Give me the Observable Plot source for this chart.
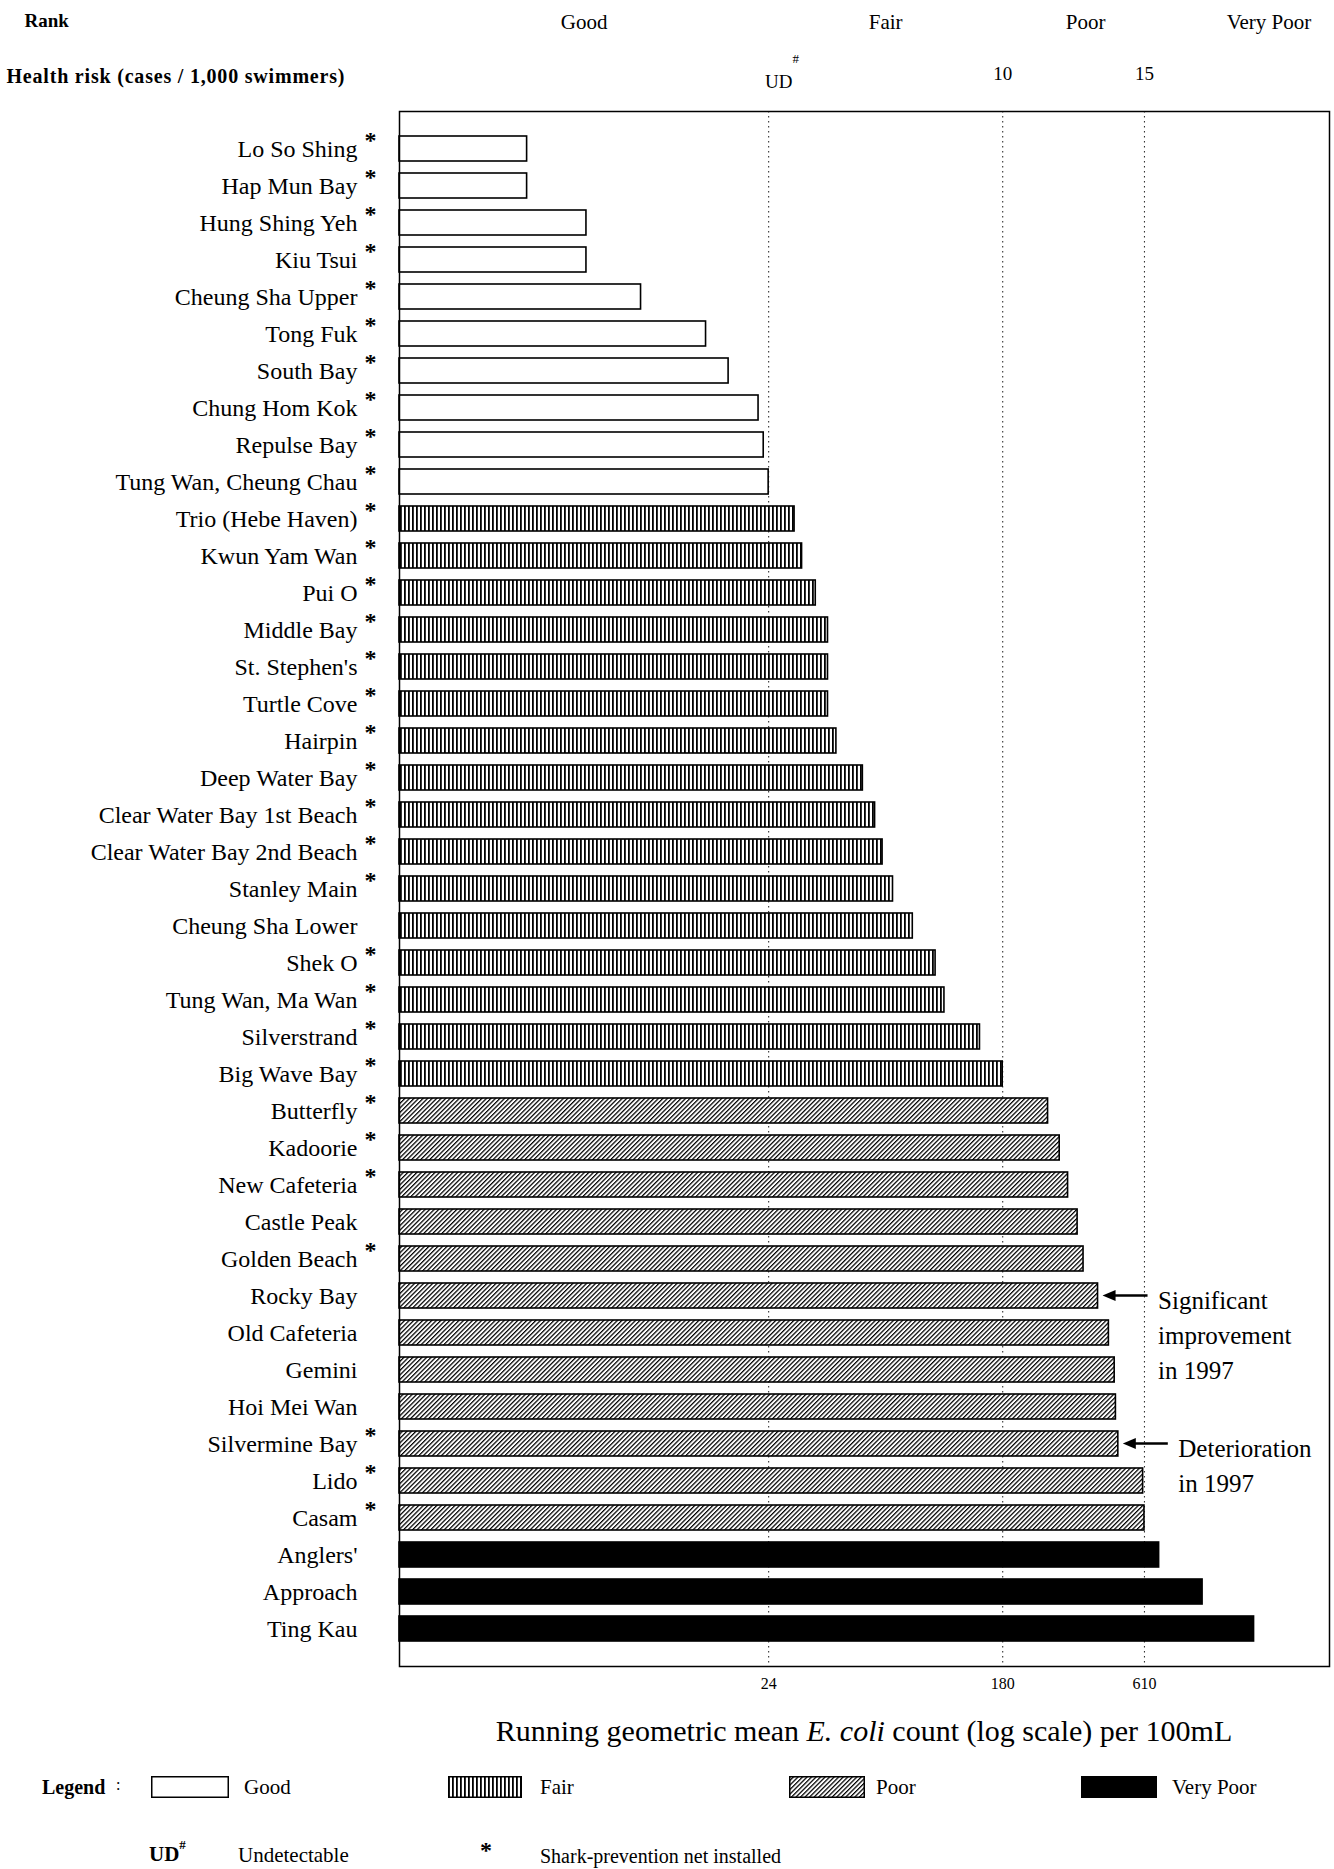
<!DOCTYPE html>
<html>
<head>
<meta charset="utf-8">
<script src="https://cdn.jsdelivr.net/npm/d3@7"></script>
<script src="https://cdn.jsdelivr.net/npm/@observablehq/plot@0.6"></script>
<style>
html, body { margin: 0; padding: 0; background: #fff; }
#page { position: relative; width: 1334px; height: 1869px; overflow: hidden; color: #000;
  font-family: "Liberation Serif", "Times New Roman", serif; }
.abs { position: absolute; white-space: nowrap; line-height: 1; }
.sw { position: absolute; display: block; }
</style>
</head>
<body>
<svg width="0" height="0" style="position:absolute">
  <defs>
    <pattern id="fair" patternUnits="userSpaceOnUse" width="4" height="4">
      <rect width="4" height="4" fill="white"/>
      <rect x="0" y="0" width="1.8" height="4" fill="black"/>
    </pattern>
    <pattern id="poor" patternUnits="userSpaceOnUse" width="3.2" height="3.2" patternTransform="rotate(45)">
      <rect width="3.2" height="3.2" fill="white"/>
      <rect x="0" y="0" width="1.25" height="3.2" fill="black"/>
    </pattern>
  </defs>
</svg>
<div id="page"></div>
<script>
// ---- data ----
const beaches = ["Lo So Shing","Hap Mun Bay","Hung Shing Yeh","Kiu Tsui","Cheung Sha Upper","Tong Fuk","South Bay","Chung Hom Kok","Repulse Bay","Tung Wan, Cheung Chau","Trio (Hebe Haven)","Kwun Yam Wan","Pui O","Middle Bay","St. Stephen's","Turtle Cove","Hairpin","Deep Water Bay","Clear Water Bay 1st Beach","Clear Water Bay 2nd Beach","Stanley Main","Cheung Sha Lower","Shek O","Tung Wan, Ma Wan","Silverstrand","Big Wave Bay","Butterfly","Kadoorie","New Cafeteria","Castle Peak","Golden Beach","Rocky Bay","Old Cafeteria","Gemini","Hoi Mei Wan","Silvermine Bay","Lido","Casam","Anglers'","Approach","Ting Kau"];
const ecoli = [3,3,5,5,8,14,17,22,23,24,30,32,36,40,40,40,43,54,60,64,70,83,101,109,148,180,266,294,316,343,361,409,449,472,477,487,603,610,692,1006,1567];
const ranks = ["Good","Good","Good","Good","Good","Good","Good","Good","Good","Good",
  "Fair","Fair","Fair","Fair","Fair","Fair","Fair","Fair","Fair","Fair","Fair","Fair","Fair","Fair","Fair","Fair",
  "Poor","Poor","Poor","Poor","Poor","Poor","Poor","Poor","Poor","Poor","Poor","Poor",
  "Very Poor","Very Poor","Very Poor"];
const sharkNet = [1,1,1,1,1,1,1,1,1,1,1,1,1,1,1,1,1,1,1,1,1,0,1,1,1,1,1,1,1,0,1,0,0,0,0,1,1,1,0,0,0];
const rankNames = ["Good","Fair","Poor","Very Poor"];
const rankFills = ["white","url(#fair)","url(#poor)","black"];
const thresholds = [24, 180, 610];
const healthRisk = ["UD", "10", "15"];
const xDomain = [1, 3000];
const notes = [
  {beach: "Rocky Bay", text: "Significant\nimprovement\nin 1997"},
  {beach: "Silvermine Bay", text: "Deterioration\nin 1997"}
];

// ---- derived tables ----
const data = beaches.map((b, i) => ({beach: b, ecoli: ecoli[i], rank: ranks[i], net: !!sharkNet[i]}));
const valueOf = new Map(data.map(d => [d.beach, d.ecoli]));
const edges = [xDomain[0], ...thresholds, xDomain[1]];
const rankHeader = rankNames.map((r, i) => ({rank: r, x: Math.sqrt(edges[i] * edges[i + 1])}));
const riskHeader = thresholds.map((t, i) => ({x: t, label: healthRisk[i]}));
const headerNudge = [0, 0, 12, 32]; // label placement nudges (px)
const riskTitle = "Health risk (cases / 1,000 swimmers)";

const plot = Plot.plot({
  width: 1334,
  height: 1705,
  marginTop: 111,
  marginLeft: 399,
  marginRight: 5,
  marginBottom: 39,
  style: {fontFamily: "'Liberation Serif', 'Times New Roman', serif", fontSize: "24px", color: "black", background: "white"},
  x: {type: "log", domain: xDomain, axis: null},
  y: {domain: beaches, paddingInner: 0.32, paddingOuter: 0.65},
  color: {type: "ordinal", domain: rankNames, range: rankFills},
  marks: [
    Plot.ruleX(thresholds, {x: d => d, stroke: "#333", strokeWidth: 1.1, strokeDasharray: "1.5,3.5"}),
    Plot.barX(data, {x1: () => xDomain[0], x2: "ecoli", y: "beach", fill: "rank", stroke: "black", strokeWidth: 1.6}),
    Plot.axisY({tickSize: 0, tickPadding: 42, fontSize: 24, label: null}),
    // bottom tick labels
    Plot.text(thresholds, {x: d => d, text: d => String(d), frameAnchor: "bottom", dy: 22, fontSize: 16}),
    // shark-net asterisks
    Plot.text(data.filter(d => d.net), {y: "beach", frameAnchor: "left", text: () => "*", dx: -35, dy: -9, fontSize: 24, fontWeight: "bold"}),
    // header rows
    ...rankHeader.map((h, i) => Plot.text([h], {x: "x", text: "rank", frameAnchor: "top", dx: headerNudge[i], dy: -97, fontSize: 21})),
    Plot.text(["Rank"], {frameAnchor: "top-left", text: d => d, dx: -375, dy: -98, textAnchor: "start", fontWeight: "bold", fontSize: 19}),
    Plot.text([riskTitle], {frameAnchor: "top-left", text: d => d, dx: -393, dy: -43, textAnchor: "start", fontWeight: "bold", fontSize: 20}),
    Plot.text(riskHeader.slice(0, 1), {x: "x", text: "label", frameAnchor: "top", dx: 10, dy: -37, fontSize: 19}),
    Plot.text(riskHeader.slice(0, 1), {x: "x", text: () => "#", frameAnchor: "top", dx: 27, dy: -58, fontSize: 13}),
    Plot.text(riskHeader.slice(1), {x: "x", text: "label", frameAnchor: "top", dy: -45, fontSize: 19}),
    // annotations
    Plot.text(notes, {x: d => valueOf.get(d.beach), y: "beach", text: "text", dx: 60, dy: -12, textAnchor: "start", lineAnchor: "top", lineHeight: 1.4, fontSize: 25}),
    Plot.frame({stroke: "black", strokeWidth: 1.5})
  ]
});

const svg = d3.select(plot);
// widen the spacing of the health-risk row title, as in the scan
svg.selectAll("text").filter(function () { return this.textContent === riskTitle; })
  .attr("letter-spacing", "0.8px");

// arrows pointing at the annotated bars (positions from Plot's scales)
const xs = plot.scale("x"), ys = plot.scale("y");
notes.forEach(n => {
  const x = xs.apply(valueOf.get(n.beach));
  const y = ys.apply(n.beach) + ys.bandwidth / 2;
  const g = svg.append("g");
  g.append("line").attr("x1", x + 50).attr("x2", x + 14).attr("y1", y).attr("y2", y)
    .attr("stroke", "black").attr("stroke-width", 2.5);
  g.append("path").attr("d", `M${x + 5},${y}L${x + 18},${y - 5.5}L${x + 18},${y + 5.5}Z`).attr("fill", "black");
});

const page = document.getElementById("page");
page.appendChild(plot);

// axis title and legend below the chart
const extra = `
<div class="abs" style="left:864px;top:1716px;transform:translateX(-50%);font-size:30px;">Running geometric mean <i>E. coli</i> count (log scale) per 100mL</div>
<div class="abs" style="left:42px;top:1777px;font-size:20px;font-weight:bold;">Legend</div>
<div class="abs" style="left:116px;top:1777px;font-size:16px;">:</div>
<svg class="sw" style="left:151px;top:1776px" width="78" height="22"><rect x="0.75" y="0.75" width="76.5" height="20.5" fill="${rankFills[0]}" stroke="black" stroke-width="1.5"/></svg>
<div class="abs" style="left:244px;top:1777px;font-size:21px;">${rankNames[0]}</div>
<svg class="sw" style="left:448px;top:1776px" width="74" height="22"><rect x="0.75" y="0.75" width="72.5" height="20.5" fill="${rankFills[1]}" stroke="black" stroke-width="1.5"/></svg>
<div class="abs" style="left:540px;top:1777px;font-size:21px;">${rankNames[1]}</div>
<svg class="sw" style="left:789px;top:1776px" width="76" height="22"><rect x="0.75" y="0.75" width="74.5" height="20.5" fill="${rankFills[2]}" stroke="black" stroke-width="1.5"/></svg>
<div class="abs" style="left:876px;top:1777px;font-size:21px;">${rankNames[2]}</div>
<svg class="sw" style="left:1081px;top:1776px" width="76" height="22"><rect x="0.75" y="0.75" width="74.5" height="20.5" fill="${rankFills[3]}" stroke="black" stroke-width="1.5"/></svg>
<div class="abs" style="left:1172px;top:1777px;font-size:21px;">${rankNames[3]}</div>
<div class="abs" style="left:149px;top:1844px;font-size:21px;font-weight:bold;">UD<sup style="font-size:13px;vertical-align:top;position:relative;top:-6px;">#</sup></div>
<div class="abs" style="left:238px;top:1845px;font-size:21px;">Undetectable</div>
<div class="abs" style="left:480px;top:1838px;font-size:24px;font-weight:bold;">*</div>
<div class="abs" style="left:540px;top:1846px;font-size:20px;">Shark-prevention net installed</div>
`;
page.insertAdjacentHTML("beforeend", extra);
</script>
</body>
</html>
